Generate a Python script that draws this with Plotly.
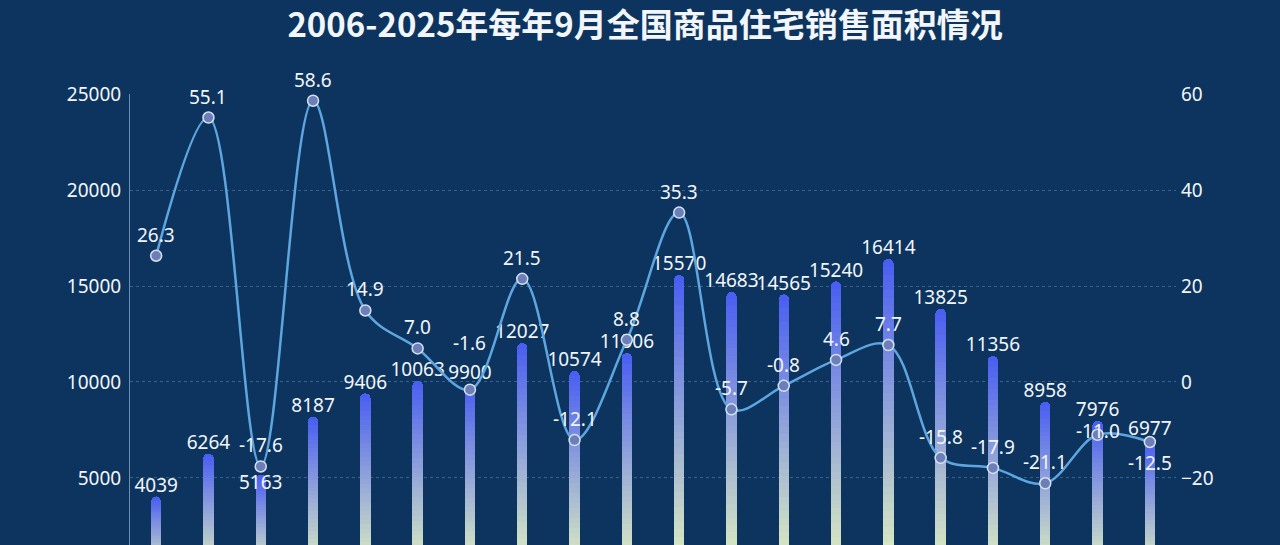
import plotly.graph_objects as go

years = [str(y) for y in range(2006, 2026)]
area = [4039, 6264, 5163, 8187, 9406, 10063, 9900, 12027, 10574, 11506,
        15570, 14683, 14565, 15240, 16414, 13825, 11356, 8958, 7976, 6977]
growth = [26.3, 55.1, -17.6, 58.6, 14.9, 7.0, -1.6, 21.5, -12.1, 8.8,
          35.3, -5.7, -0.8, 4.6, 7.7, -15.8, -17.9, -21.1, -11.0, -12.5]

BG = '#0c345e'
TXT = '#f2f6fa'
FONT = 'Noto Sans, Noto Sans CJK SC'

top_rgb = (72, 92, 242)
bot_rgb = (228, 244, 190)
K = 40  # gradient slices per bar


def mix(t):
    c = [round(b + (a - b) * t) for a, b in zip(top_rgb, bot_rgb)]
    return 'rgb(%d,%d,%d)' % tuple(c)


fig = go.Figure()

# gradient bars: each bar stacked from K thin slices
for k in range(K):
    fig.add_trace(go.Bar(
        x=years, y=[v / K for v in area],
        marker=dict(color=mix((k + 0.5) / K), line=dict(width=0)),
        width=0.2, showlegend=False, hoverinfo='skip'
    ))

# bar value labels (2008 label sits under the top, as in the original)
pos = ['top center'] * len(area)
pos[2] = 'bottom center'
fig.add_trace(go.Scatter(
    x=years, y=area, mode='text', text=[str(v) for v in area],
    textposition=pos, textfont=dict(size=19, color=TXT, family=FONT),
    cliponaxis=False, showlegend=False, hoverinfo='skip'
))

# growth line
fig.add_trace(go.Scatter(
    x=years, y=growth, yaxis='y2', mode='lines+markers',
    line=dict(color='#5ea6e0', width=2.5, shape='spline', smoothing=1.0),
    marker=dict(size=11, color='#6d7fb9', line=dict(color='#d6e2f2', width=1.5)),
    cliponaxis=False, showlegend=False
))

# growth labels, nudged where the original shifted them to avoid overlap
shift = [21] * len(growth)
shift[6] = 47
shift[18] = 4
shift[19] = -21
for i, (g, s) in enumerate(zip(growth, shift)):
    fig.add_annotation(x=i, y=g, xref='x', yref='y2', text='%.1f' % g,
                       showarrow=False, yshift=s, yanchor='middle',
                       font=dict(size=19, color=TXT, family=FONT))

fig.update_layout(
    width=1280, height=545,
    paper_bgcolor=BG, plot_bgcolor=BG,
    barmode='stack', barcornerradius=5,
    margin=dict(l=130, r=104, t=94, b=0, autoexpand=False),
    title=dict(text='<b>2006-2025年每年9月全国商品住宅销售面积情况</b>',
               x=0.504, xref='container', xanchor='center',
               y=1 - 25 / 545, yref='container', yanchor='middle',
               font=dict(size=33, color=TXT, family='Noto Sans CJK SC')),
    xaxis=dict(type='category', range=[-0.5, 19.5], showticklabels=False,
               showgrid=False, zeroline=False, showline=False),
    yaxis=dict(range=[1510, 25000], tickvals=[5000, 10000, 15000, 20000, 25000],
               tickformat='d',
               showline=True, linecolor='#6f8fb0', linewidth=1,
               gridcolor='rgba(150,180,215,0.35)', griddash='3px,3px', zeroline=False,
               tickfont=dict(size=19, color=TXT, family=FONT), ticklabelstandoff=4),
    yaxis2=dict(range=[-33.96, 60], tickvals=[-20, 0, 20, 40, 60],
                overlaying='y', side='right', showgrid=False, zeroline=False,
                showline=False, tickfont=dict(size=19, color=TXT, family=FONT),
                ticklabelstandoff=4),
)

fig.write_html("out.html", config={'displayModeBar': False},
               post_script="document.body.style.margin='0';"
                           "document.body.style.background='#0c345e';")
